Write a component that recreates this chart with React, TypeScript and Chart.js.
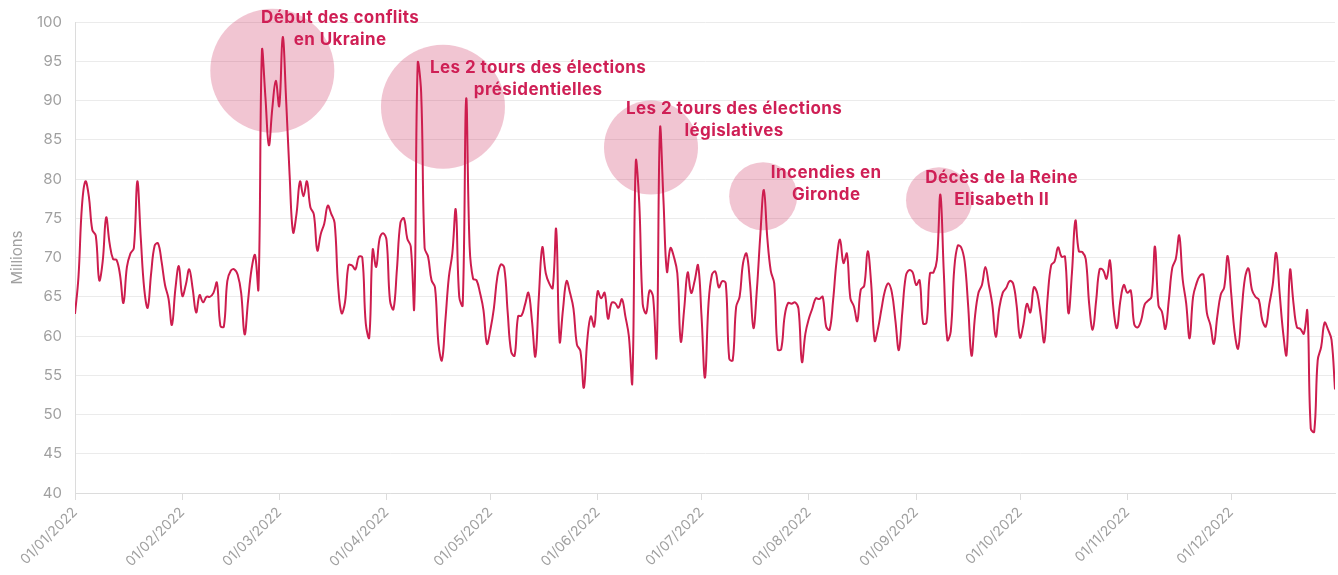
import React, { useEffect, useRef } from 'react';
import { Chart, registerables } from 'chart.js';

Chart.register(...registerables);

// Daily values (millions), 2022
const jan = [62.8, 67.5, 76.5, 79.7, 77.8, 73.5, 72.8, 67.1, 69.5, 75.1, 71.8, 69.8, 69.7, 67.8, 64.2, 68.8, 70.5, 71.2, 79.7, 72.5, 66, 63.6, 68, 71.5, 71.8, 69.5, 66.5, 64.8, 61.4, 66, 68.9];
const feb = [65.1, 66.5, 68.5, 66, 63, 65.2, 64.3, 65, 65, 65.5, 66.8, 61.3, 61.2, 67, 68.3, 68.5, 67.8, 65.5, 60.2, 64.5, 68.5, 70.3, 66, 96.3, 90.5, 84.3, 89, 92.5];
const mar = [89.3, 98.1, 90, 80.5, 73.2, 75.6, 79.7, 77.8, 79.7, 76.4, 75.5, 70.9, 73, 74.3, 76.6, 75.6, 74.4, 66.5, 62.9, 64.3, 69, 69, 68.5, 70.1, 70, 61.6, 59.8, 71, 68.8, 72.4, 73.1];
const apr = [72.2, 64.5, 63.4, 68.5, 74.4, 75, 72.4, 71.4, 63.6, 94.7, 91, 71.2, 70.1, 67.1, 66.2, 59, 56.9, 62, 67.5, 70.5, 76.1, 65, 63.9, 90.2, 71.4, 67.3, 67.1, 65.5, 63.3, 59];
const may = [60.8, 63.5, 67.5, 69.1, 68.7, 63, 58, 57.5, 62.5, 62.6, 64, 65.5, 62, 57.4, 65, 71.3, 68, 66.7, 66.1, 73.6, 59.3, 63.5, 67, 65.5, 63.5, 58.9, 58.1, 53.4, 59.5, 62.5, 61.2];
const jun = [65.7, 64.8, 65.5, 62.2, 64.2, 64.2, 63.6, 64.7, 62.5, 60, 54.1, 82.2, 77, 64.1, 62.9, 65.8, 65, 57.4, 86.4, 77.3, 68.2, 71.2, 70.1, 68, 59.3, 63.5, 68.1, 65.5, 67, 69];
const jul = [62.5, 54.7, 64, 67.8, 68.2, 66.2, 67, 66.7, 57.1, 56.9, 63.7, 65, 69.3, 70.5, 66.7, 61, 66, 73, 78.6, 72.5, 68.3, 66.7, 58.3, 58.3, 62.5, 64.2, 64.1, 64.3, 63.5, 56.7, 60.3];
const aug = [62.2, 63.5, 64.8, 64.7, 65, 61.2, 60.8, 64.5, 69.5, 72.3, 69.3, 70.5, 64.8, 63.8, 61.9, 65.9, 66.4, 70.8, 66.7, 59.4, 61, 63.5, 65.8, 66.7, 65.5, 62, 58.2, 63, 67.6, 68.4, 68.1];
const sep = [66.5, 67.1, 61.6, 61.7, 68, 68.1, 69.7, 78, 68, 59.5, 60.6, 68.5, 71.5, 71.3, 69.5, 64, 57.5, 62.5, 65.5, 66.5, 68.8, 66.5, 64, 59.9, 63.5, 65.5, 66.1, 67, 66.7, 64];
const oct = [59.8, 61.5, 64.1, 63, 66.2, 65.4, 62.5, 59.2, 65, 69, 69.5, 71.3, 70.1, 70.1, 62.9, 68, 74.7, 70.8, 70.7, 69.8, 64, 60.8, 64.5, 68.5, 68.4, 67.3, 69.6, 63.5, 61, 64.5, 66.5];
const nov = [65.5, 65.8, 61.5, 61.1, 62, 64, 64.5, 65, 71.4, 63.9, 63.1, 60.9, 64.6, 68.7, 69.8, 72.8, 67.2, 64.2, 59.7, 65, 66.7, 67.7, 67.8, 62.9, 61.4, 59, 62.5, 65.3, 66.2, 70.2];
const dec = [65.5, 60.5, 58.4, 63, 67.4, 68.6, 65.9, 65, 64.6, 62, 61.2, 64, 66.5, 70.6, 65.5, 60.5, 57.6, 68.4, 64.2, 61.1, 60.9, 60.3, 63.2, 48.2, 47.8, 56.9, 58.6, 61.7, 60.8, 59.5, 53.2];

const dailyValues = [...jan, ...feb, ...mar, ...apr, ...may, ...jun, ...jul, ...aug, ...sep, ...oct, ...nov, ...dec];

// X ticks (day index of first of each month)
const monthStartDays = [0, 31, 59, 90, 120, 151, 181, 212, 243, 273, 304, 334];
const monthTickLabels = ['01/01/2022', '01/02/2022', '01/03/2022', '01/04/2022', '01/05/2022', '01/06/2022', '01/07/2022', '01/08/2022', '01/09/2022', '01/10/2022', '01/11/2022', '01/12/2022'];

// Events (bubbles)
const eventDays = [57, 106.3, 166.4, 198.8, 249.6];
const eventValues = [93.8, 89.2, 84.0, 77.8, 77.3];
const eventRadii = [62, 62, 47, 34, 33];
const eventLabelDays = [76.6, 133.8, 190.4, 217.0, 267.7];
const eventLabelValues = [100.51, 94.14, 88.92, 80.76, 80.13];
const eventLabels = [
  ['Début des conflits', 'en Ukraine'],
  ['Les 2 tours des élections', 'présidentielles'],
  ['Les 2 tours des élections', 'législatives'],
  ['Incendies en', 'Gironde'],
  ['Décès de la Reine', 'Elisabeth II'],
];

const LINE_COLOR = '#cd1d4e';
const TEXT_COLOR = '#cf1f55';
const BUBBLE_COLOR = 'rgba(205, 45, 95, 0.28)';
const GRID_COLOR = '#ebebeb';
const TICK_COLOR = '#a0a0a0';
const FONT = 'Inter, "Open Sans", sans-serif';

const eventTextPlugin = {
  id: 'eventText',
  afterDatasetsDraw(chart: any) {
    const { ctx } = chart;
    const x = chart.scales.x;
    const y = chart.scales.y;
    ctx.save();
    ctx.font = `700 17px ${FONT}`;
    try { (ctx as any).letterSpacing = '0.4px'; } catch (e) {}
    ctx.fillStyle = TEXT_COLOR;
    ctx.textAlign = 'center';
    ctx.textBaseline = 'middle';
    eventLabels.forEach((lines, i) => {
      const px = x.getPixelForValue(eventLabelDays[i]);
      const py = y.getPixelForValue(eventLabelValues[i]);
      lines.forEach((t, j) => ctx.fillText(t, px, py + j * 22));
    });
    ctx.restore();
  },
};

export default function App() {
  const ref = useRef<HTMLCanvasElement | null>(null);

  useEffect(() => {
    if (!ref.current) return;
    const chart = new Chart(ref.current, {
      type: 'line',
      data: {
        datasets: [
          {
            type: 'line',
            data: dailyValues.map((v, i) => ({ x: i, y: v })),
            borderColor: LINE_COLOR,
            borderWidth: 2,
            pointRadius: 0,
            tension: 0.4,
            fill: false,
            order: 0,
          } as any,
          {
            type: 'bubble',
            data: eventDays.map((d, i) => ({ x: d, y: eventValues[i], r: eventRadii[i] })),
            backgroundColor: BUBBLE_COLOR,
            borderWidth: 0,
            clip: false,
            order: 1,
          } as any,
        ],
      },
      options: {
        animation: false,
        responsive: false,
        devicePixelRatio: 1,
        layout: { autoPadding: false, padding: { top: 22, right: 3, left: 0, bottom: 0 } },
        plugins: { legend: { display: false }, tooltip: { enabled: false } },
        scales: {
          x: {
            type: 'linear',
            min: 0,
            max: dailyValues.length - 1,
            afterBuildTicks: (scale: any) => {
              scale.ticks = monthStartDays.map((v) => ({ value: v }));
            },
            afterFit: (scale: any) => {
              scale.height = 82;
            },
            ticks: {
              autoSkip: false,
              minRotation: 45,
              maxRotation: 45,
              padding: 4,
              color: TICK_COLOR,
              font: { family: FONT, size: 14 },
              callback: (value: any) => {
                const idx = monthStartDays.indexOf(Number(value));
                return idx >= 0 ? monthTickLabels[idx] : '';
              },
            },
            grid: {
              drawOnChartArea: false,
              drawTicks: true,
              tickLength: 7,
              color: '#dcdcdc',
            },
            border: { display: true, color: '#dcdcdc' },
          },
          y: {
            min: 40,
            max: 100,
            afterFit: (scale: any) => {
              scale.width = 75;
            },
            ticks: {
              stepSize: 5,
              padding: 13,
              color: TICK_COLOR,
              font: { family: FONT, size: 15 },
            },
            grid: { color: GRID_COLOR, drawTicks: false },
            border: { display: true, color: '#dcdcdc' },
            title: {
              display: true,
              text: 'Millions',
              color: TICK_COLOR,
              font: { family: FONT, size: 15 },
              padding: { top: 8, bottom: 0 },
            },
          },
        },
      } as any,
      plugins: [eventTextPlugin],
    });
    return () => chart.destroy();
  }, []);

  return (
    <div style={{ position: 'absolute', left: 0, top: 0, width: 1338, height: 575, background: '#fff' }}>
      <canvas ref={ref} width={1338} height={575} style={{ display: 'block' }} />
    </div>
  );
}
